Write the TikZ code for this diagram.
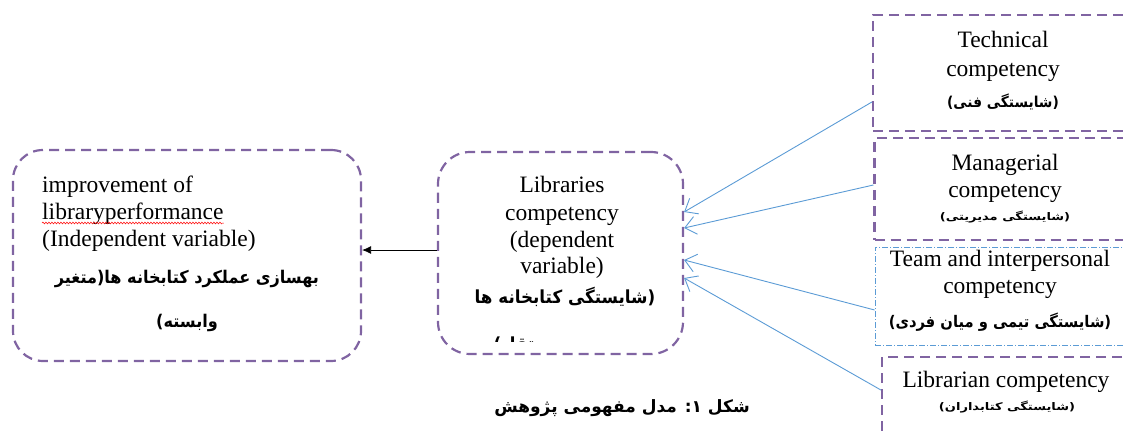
\documentclass[tikz,border=0pt]{standalone}
\usepackage{fontspec}
\setmainfont{Liberation Serif}
\newfontfamily\fa[Script=Arabic]{DejaVu Sans}
\TeXXeTstate=1
\usetikzlibrary{arrows.meta,decorations.pathmorphing}
\definecolor{vio}{HTML}{8064A2}
\definecolor{sky}{HTML}{5B9BD5}
\begin{document}
\begin{tikzpicture}[x=1pt,y=-1pt,
  purplebox/.style={draw=vio, line width=2.2pt, dash pattern=on 10pt off 6pt, inner sep=0pt},
  teambox/.style={draw=sky, line width=0.8pt, dash pattern=on 6pt off 2pt on 1pt off 2pt, inner sep=0pt},
  en/.style={font=\fontsize{23.5}{27.5}\selectfont, anchor=base, inner sep=0pt},
  fa/.style={font=\fa\bfseries\fontsize{#1}{#1}\selectfont, anchor=base, inner sep=0pt},
  squeeze/.style={transform shape, xscale=#1},
  faS/.style={font=\fa\bfseries\fontsize{10.5}{12}\selectfont, anchor=base, inner sep=0pt, transform shape, xscale=1.24},
  link/.style={draw=sky, line width=0.9pt, -{Straight Barb[length=11pt,width=18pt,line width=0.9pt]}},
]
\useasboundingbox (0,0) rectangle (1123,436);
\clip (0,0) rectangle (1123,436);
% boxes
\node[purplebox, rounded corners=30pt, minimum width=348pt, minimum height=211pt] (L) at (187,255.5) {};
\node[purplebox, rounded corners=32pt, minimum width=245pt, minimum height=202pt] (M) at (560.5,253) {};
\node[purplebox, minimum width=267pt, minimum height=116pt] (T) at (1006.5,73) {};
\node[purplebox, minimum width=267pt, minimum height=102pt] (G) at (1008,189) {};
\node[teambox, minimum width=260pt, minimum height=98pt] (E) at (1005,296) {};
\node[purplebox, minimum width=260pt, minimum height=120pt] (B) at (1012,417) {};
% left texts
\node[en, anchor=base west] (l1) at (42,192) {improvement of};
\node[en, anchor=base west] (l2) at (42,219) {libraryperformance};
\node[en, anchor=base west] (l3) at (42,246) {(Independent variable)};
\node[fa=17.5, squeeze=0.92] (l4) at (187,283) {\beginR بهسازی عملکرد کتابخانه ها(متغیر\endR};
\node[fa=17.5, squeeze=0.92] (l5) at (187,327) {\beginR وابسته)\endR};
\draw[red, line width=0.5pt, decorate, decoration={snake, amplitude=0.9pt, segment length=3pt}] ([yshift=-4pt]l2.base west) -- ([yshift=-4pt]l2.base east);
% middle texts
\node[en] (m1) at (562,192) {Libraries};
\node[en] (m2) at (562,220) {competency};
\node[en] (m3) at (562,247) {(dependent};
\node[en] (m4) at (562,273) {variable)};
\node[fa=18, squeeze=0.93] (m5) at (565,303) {\beginR (شایستگی کتابخانه ها\endR};
\begin{scope}
\clip (480,330) rectangle (650,341);
\node[fa=18, squeeze=0.93] (m6) at (528,350) {\beginR مستقل)\endR};
\end{scope}
% right texts
\node[en] (t1) at (1003,48) {Technical};
\node[en] (t2) at (1003,77) {competency};
\node[fa=15, squeeze=0.92] (t3) at (1003,107) {\beginR (شایستگی فنی)\endR};
\node[en] (g1) at (1005,170) {Managerial};
\node[en] (g2) at (1005,197) {competency};
\node[faS] (g3) at (1005,220) {\beginR (شایستگی مدیریتی)\endR};
\node[en] (e1) at (1000,266) {Team and interpersonal};
\node[en] (e2) at (1000,293) {competency};
\node[fa=16, squeeze=0.92] (e3) at (1000,327) {\beginR (شایستگی تیمی و میان فردی)\endR};
\node[en] (b1) at (1006,387) {Librarian competency};
\node[faS] (b2) at (1007,410) {\beginR (شایستگی کتابداران)\endR};
% caption
\node[fa=17] (cap) at (622,412) {\beginR شکل ۱: مدل مفهومی پژوهش\endR};
% connectors
\draw[-{Latex[length=9pt,width=8pt]}, line width=0.8pt] ([yshift=3pt]M.west) -- ([yshift=5.5pt]L.east);
\draw[link] ([yshift=-29pt]T.west) -- ([yshift=41pt]M.east);
\draw[link] ([yshift=4pt]G.west) -- ([yshift=25pt]M.east);
\draw[link] ([yshift=-14pt]E.west) -- ([yshift=-7pt]M.east);
\draw[link] ([yshift=27pt]B.west) -- ([yshift=-25pt]M.east);
\end{tikzpicture}
\end{document}
